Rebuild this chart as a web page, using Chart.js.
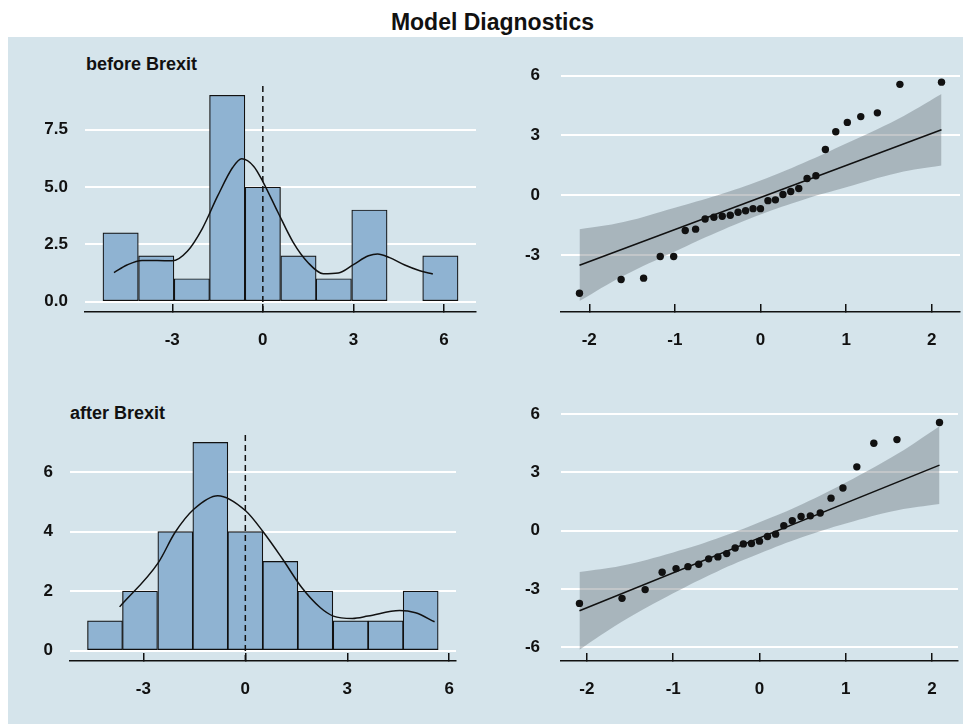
<!DOCTYPE html>
<html>
<head>
<meta charset="utf-8">
<title>Model Diagnostics</title>
<script src="https://cdn.jsdelivr.net/npm/chart.js@4.4.1/dist/chart.umd.min.js"></script>
<style>
  body { margin: 0; background: #ffffff; font-family: 'Liberation Sans', Arial, sans-serif; }
  #page { position: relative; width: 963px; height: 724px; overflow: hidden; }
  #panel { position: absolute; left: 8px; top: 37px; width: 955px; height: 687px; background: #d5e4eb; }
  .lbl { position: absolute; font-weight: bold; color: #111; white-space: nowrap; }
  canvas { position: absolute; }
</style>
</head>
<body>
<div id="page">
  <div id="panel"></div>
  <div class="lbl" style="left:0; width:985px; top:8px; text-align:center; font-size:23px; line-height:28px;">Model Diagnostics</div>
  <div class="lbl" style="left:86px; top:53px; font-size:18px; line-height:22px;">before Brexit</div>
  <div class="lbl" style="left:70px; top:402px; font-size:18px; line-height:22px;">after Brexit</div>
  <canvas id="hist_before" width="472" height="330" style="left:8px; top:40px;"></canvas>
  <canvas id="qq_before" width="483" height="330" style="left:480px; top:40px;"></canvas>
  <canvas id="hist_after" width="472" height="344" style="left:8px; top:380px;"></canvas>
  <canvas id="qq_after" width="483" height="344" style="left:480px; top:380px;"></canvas>
</div>
<script>
// ---- histogram: before Brexit ----
let beforeBinMids = [-4.71, -3.53, -2.35, -1.18, 0, 1.18, 2.35, 3.53, 4.71, 5.88];
let beforeCounts = [3, 2, 1, 9, 5, 2, 1, 4, 0, 2];
let beforeDensX = [-4.93, -4.5, -4.0, -3.5, -3.0, -2.5, -2.0, -1.5, -1.0, -0.7, -0.3, 0.0, 0.5, 1.0, 1.5, 2.0, 2.5, 3.0, 3.5, 3.8, 4.2, 4.7, 5.2, 5.63];
let beforeDensY = [1.27, 1.6, 1.8, 1.8, 1.78, 2.2, 3.2, 4.6, 5.85, 6.23, 5.9, 5.24, 3.9, 2.6, 1.7, 1.22, 1.25, 1.62, 2.0, 2.08, 1.92, 1.6, 1.35, 1.21];

// ---- histogram: after Brexit ----
let afterBinMids = [-4.13, -3.10, -2.06, -1.03, 0, 1.03, 2.06, 3.10, 4.13, 5.16];
let afterCounts = [1, 2, 4, 7, 4, 3, 2, 1, 1, 2];
let afterDensX = [-3.70, -2.56, -2.07, -1.51, -0.81, 0.0, 0.54, 1.10, 1.66, 2.21, 2.59, 3.15, 3.61, 4.54, 5.01, 5.57];
let afterDensY = [1.47, 2.96, 3.97, 4.76, 5.21, 4.71, 3.97, 3.07, 2.12, 1.44, 1.16, 1.08, 1.16, 1.35, 1.27, 0.97];

let zeroLine = 0;

// ---- QQ: before Brexit ----
let beforeQqTheo = [-2.114, -1.628, -1.365, -1.171, -1.014, -0.879, -0.758, -0.647, -0.544, -0.447, -0.353, -0.262, -0.174, -0.087, 0, 0.087, 0.174, 0.262, 0.353, 0.447, 0.544, 0.647, 0.758, 0.879, 1.014, 1.171, 1.365, 1.628, 2.114];
let beforeQqSample = [-4.93, -4.24, -4.17, -3.08, -3.08, -1.78, -1.71, -1.20, -1.11, -1.06, -1.01, -0.86, -0.79, -0.68, -0.68, -0.28, -0.24, 0.03, 0.18, 0.33, 0.83, 0.97, 2.29, 3.18, 3.65, 3.94, 4.13, 5.56, 5.67];
let beforeRefX = [-2.114, 2.114];
let beforeRefY = [-3.52, 3.28];
let beforeBandX = [-2.114, -1.6, -1.0, -0.5, 0, 0.5, 1.0, 1.6, 2.114];
let beforeBandLow = [-5.32, -4.05, -2.83, -1.85, -0.97, -0.23, 0.39, 1.11, 1.48];
let beforeBandHigh = [-1.72, -1.35, -0.63, -0.01, 0.73, 1.61, 2.59, 3.81, 5.08];

// ---- QQ: after Brexit ----
let afterQqTheo = [-2.086, -1.593, -1.325, -1.128, -0.967, -0.829, -0.704, -0.589, -0.482, -0.380, -0.282, -0.187, -0.093, 0, 0.093, 0.187, 0.282, 0.380, 0.482, 0.589, 0.704, 0.829, 0.967, 1.128, 1.325, 1.593, 2.086];
let afterQqSample = [-3.74, -3.48, -3.03, -2.14, -1.95, -1.85, -1.73, -1.45, -1.35, -1.18, -0.89, -0.68, -0.66, -0.54, -0.30, -0.18, 0.25, 0.51, 0.73, 0.76, 0.91, 1.67, 2.19, 3.28, 4.49, 4.68, 5.56];
let afterRefX = [-2.086, 2.086];
let afterRefY = [-4.12, 3.37];
let afterBandX = [-2.086, -1.6, -1.0, -0.5, 0, 0.5, 1.0, 1.6, 2.086];
let afterBandLow = [-6.12, -4.70, -3.22, -2.12, -1.18, -0.33, 0.37, 1.05, 1.37];
let afterBandHigh = [-2.12, -1.80, -1.12, -0.42, 0.43, 1.37, 2.47, 3.95, 5.37];

// ---- ticks ----
let histXTicks = [-3, 0, 3, 6];
let beforeHistYTicks = [0, 2.5, 5, 7.5];
let beforeHistYLabels = ['0.0', '2.5', '5.0', '7.5'];
let afterHistYTicks = [0, 2, 4, 6];
let afterHistYLabels = ['0', '2', '4', '6'];
let qqXTicks = [-2, -1, 0, 1, 2];
let beforeQqYTicks = [-3, 0, 3, 6];
let afterQqYTicks = [-6, -3, 0, 3, 6];

const INK = '#111111';
const BAR_FILL = '#8fb3d2';
const BAND_FILL = 'rgba(95, 105, 112, 0.38)';
const tickFont = { family: "'Liberation Sans', Arial, sans-serif", size: 17, weight: 'bold' };

function pairs(xs, ys) {
    return xs.map((x, i) => ({ x: x, y: ys[i] }));
}

//=======================================================//
function makeScales(o) {
    return {
        x: {
            type: 'linear',
            min: o.xMin,
            max: o.xMax,
            offset: false,
            afterBuildTicks: s => { s.ticks = o.xTicks.map(v => ({ value: v })); },
            afterFit: s => { s.height = o.xHeight; },
            border: { display: true, color: INK, width: 1.5 },
            // short tick marks pointing up into the plot
            grid: { offset: false, drawOnChartArea: false, drawTicks: true, tickLength: -8, color: INK, lineWidth: 1.5 },
            ticks: { padding: 26, color: INK, font: tickFont, autoSkip: false, maxRotation: 0 }
        },
        y: {
            type: 'linear',
            min: o.yMin,
            max: o.yMax,
            afterBuildTicks: s => { s.ticks = o.yTicks.map(v => ({ value: v })); },
            afterFit: s => { s.width = o.yWidth; },
            border: { display: false },
            grid: { color: '#ffffff', lineWidth: 2, drawTicks: false },
            ticks: {
                padding: o.yPad,
                color: INK,
                font: tickFont,
                callback: (v, i) => o.yLabels ? o.yLabels[i] : String(v)
            }
        }
    };
}

function showHistogram(id, mids, counts, densX, densY, scaleOpts, pad) {
    let ctx = document.getElementById(id).getContext('2d');
    return new Chart(ctx, {
        type: 'bar',
        data: {
            datasets: [
                {
                    type: 'line',
                    data: [{ x: zeroLine, y: scaleOpts.yMin }, { x: zeroLine, y: scaleOpts.yMax }],
                    borderColor: INK,
                    borderWidth: 1.5,
                    borderDash: [6, 4],
                    pointRadius: 0
                },
                {
                    type: 'line',
                    data: pairs(densX, densY),
                    borderColor: INK,
                    borderWidth: 1.5,
                    pointRadius: 0,
                    cubicInterpolationMode: 'monotone'
                },
                {
                    type: 'bar',
                    data: pairs(mids, counts),
                    backgroundColor: BAR_FILL,
                    borderColor: INK,
                    borderWidth: 1.2,
                    borderSkipped: false,
                    barPercentage: 1,
                    categoryPercentage: 1
                }
            ]
        },
        options: {
            responsive: false,
            animation: false,
            layout: { padding: pad, autoPadding: false },
            scales: makeScales(scaleOpts),
            plugins: { legend: { display: false }, tooltip: { enabled: false } }
        }
    });
}

function showQQ(id, theo, sample, refX, refY, bandX, bandLow, bandHigh, scaleOpts, pad) {
    let ctx = document.getElementById(id).getContext('2d');
    return new Chart(ctx, {
        type: 'scatter',
        data: {
            datasets: [
                {
                    type: 'scatter',
                    data: pairs(theo, sample),
                    backgroundColor: INK,
                    borderWidth: 0,
                    pointRadius: 3.7
                },
                {
                    type: 'line',
                    data: pairs(refX, refY),
                    borderColor: INK,
                    borderWidth: 1.5,
                    pointRadius: 0
                },
                {
                    type: 'line',
                    data: pairs(bandX, bandLow),
                    borderColor: 'rgba(0,0,0,0)',
                    borderWidth: 0,
                    pointRadius: 0,
                    tension: 0.4,
                    fill: false
                },
                {
                    type: 'line',
                    data: pairs(bandX, bandHigh),
                    borderColor: 'rgba(0,0,0,0)',
                    borderWidth: 0,
                    pointRadius: 0,
                    tension: 0.4,
                    fill: '-1',
                    backgroundColor: BAND_FILL
                }
            ]
        },
        options: {
            responsive: false,
            animation: false,
            layout: { padding: pad, autoPadding: false },
            scales: makeScales(scaleOpts),
            plugins: { legend: { display: false }, tooltip: { enabled: false } }
        }
    });
}

showHistogram('hist_before', beforeBinMids, beforeCounts, beforeDensX, beforeDensY, {
    xMin: -5.89, xMax: 7.06, xTicks: histXTicks, xHeight: 58,
    yMin: -0.45, yMax: 9.45, yTicks: beforeHistYTicks, yLabels: beforeHistYLabels, yWidth: 77, yPad: 17
}, { top: 45, right: 4, left: 0, bottom: 0 });

showQQ('qq_before', beforeQqTheo, beforeQqSample, beforeRefX, beforeRefY, beforeBandX, beforeBandLow, beforeBandHigh, {
    xMin: -2.33, xMax: 2.33, xTicks: qqXTicks, xHeight: 58,
    yMin: -5.87, yMax: 6.22, yTicks: beforeQqYTicks, yWidth: 81, yPad: 21
}, { top: 17, right: 3, left: 0, bottom: 0 });

showHistogram('hist_after', afterBinMids, afterCounts, afterDensX, afterDensY, {
    xMin: -5.16, xMax: 6.2, xTicks: histXTicks, xHeight: 63,
    yMin: -0.35, yMax: 7.35, yTicks: afterHistYTicks, yLabels: afterHistYLabels, yWidth: 62, yPad: 17
}, { top: 52, right: 4, left: 0, bottom: 0 });

showQQ('qq_after', afterQqTheo, afterQqSample, afterRefX, afterRefY, afterBandX, afterBandLow, afterBandHigh, {
    xMin: -2.3, xMax: 2.3, xTicks: qqXTicks, xHeight: 63,
    yMin: -6.7, yMax: 6.14, yTicks: afterQqYTicks, yWidth: 81, yPad: 21
}, { top: 25, right: 3, left: 0, bottom: 0 });
</script>
</body>
</html>
